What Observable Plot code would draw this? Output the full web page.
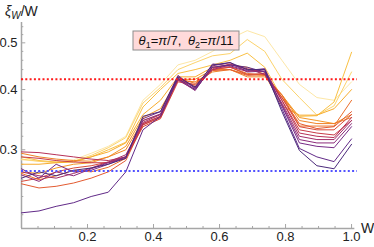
<!DOCTYPE html>
<html><head><meta charset="utf-8">
<script src="https://cdn.jsdelivr.net/npm/d3@7"></script>
<script src="https://cdn.jsdelivr.net/npm/@observablehq/plot@0.6"></script>
<style>body{margin:0;background:#fff}#chart{width:374px;height:247px}</style>
</head><body><div id="chart"></div>
<script>
// sample positions of W
const xs = [0,0.053,0.105,0.158,0.211,0.263,0.316,0.368,0.421,0.474,0.526,0.579,0.632,0.684,0.737,0.789,0.842,0.895,0.947,1];
// series (darkest purple first ... palest yellow last)
const s0  = [0.262,0.27,0.265,0.272,0.275,0.28,0.288,0.352,0.36,0.425,0.405,0.45,0.455,0.44,0.44,0.36,0.299,0.278,0.274,0.308];
const s1  = [0.222,0.224,0.229,0.233,0.24,0.245,0.27,0.33,0.352,0.422,0.40,0.445,0.45,0.445,0.435,0.365,0.302,0.29,0.2835,0.316];
const s2  = [0.274,0.262,0.28,0.27,0.272,0.28,0.29,0.348,0.36,0.428,0.402,0.452,0.448,0.438,0.442,0.37,0.31,0.305,0.303,0.335];
const s3  = [0.266,0.258,0.27,0.265,0.274,0.282,0.29,0.345,0.356,0.42,0.398,0.448,0.455,0.435,0.437,0.372,0.315,0.31,0.31,0.34];
const s4  = [0.27,0.265,0.262,0.268,0.275,0.283,0.293,0.342,0.355,0.425,0.403,0.44,0.45,0.442,0.43,0.375,0.32,0.315,0.315,0.345];
const s5  = [0.297,0.296,0.293,0.29,0.287,0.285,0.29,0.34,0.352,0.418,0.4,0.445,0.446,0.436,0.44,0.38,0.325,0.32,0.318,0.35];
const s6  = [0.29,0.288,0.285,0.283,0.282,0.282,0.288,0.338,0.35,0.42,0.405,0.442,0.452,0.44,0.435,0.38,0.33,0.325,0.322,0.345];
const s7  = [0.258,0.262,0.27,0.275,0.278,0.283,0.29,0.335,0.348,0.415,0.41,0.44,0.445,0.43,0.432,0.385,0.335,0.33,0.33,0.355];
const s8  = [0.255,0.25,0.252,0.256,0.262,0.27,0.285,0.338,0.35,0.42,0.408,0.438,0.44,0.428,0.43,0.385,0.34,0.332,0.335,0.36];
const s9  = [0.268,0.26,0.265,0.272,0.27,0.276,0.288,0.34,0.352,0.422,0.412,0.44,0.445,0.432,0.428,0.39,0.336,0.336,0.336,0.38];
const s10 = [0.295,0.29,0.287,0.285,0.284,0.29,0.3,0.345,0.355,0.418,0.415,0.435,0.44,0.425,0.425,0.39,0.345,0.34,0.34,0.35];
const s11 = [0.27,0.268,0.275,0.28,0.282,0.29,0.305,0.35,0.365,0.42,0.42,0.44,0.44,0.43,0.428,0.39,0.35,0.345,0.34,0.355];
const s12 = [0.28,0.28,0.282,0.283,0.29,0.297,0.31,0.355,0.38,0.425,0.425,0.445,0.45,0.445,0.43,0.37,0.354,0.354,0.365,0.40];
const s13 = [0.29,0.285,0.283,0.284,0.29,0.3,0.311,0.368,0.40,0.432,0.44,0.45,0.46,0.476,0.445,0.385,0.352,0.353,0.377,0.478];
const s14 = [0.287,0.284,0.282,0.284,0.292,0.303,0.318,0.375,0.404,0.44,0.455,0.47,0.475,0.508,0.48,0.42,0.385,0.354,0.37,0.435];
const s15 = [0.286,0.284,0.283,0.286,0.295,0.305,0.32,0.38,0.41,0.45,0.46,0.48,0.51,0.53,0.515,0.46,0.41,0.385,0.38,0.415];
const series = [s0,s1,s2,s3,s4,s5,s6,s7,s8,s9,s10,s11,s12,s13,s14,s15];
const colors = ["#4b2a7b","#612a88","#772b86","#8c2b7a","#a22d69","#b73157","#c93a47","#d84a3a",
                "#e35b31","#eb6e2a","#f08226","#f49726","#f7ac2e","#f9c043","#fcd36c","#fde7a6"];
const refRed = 0.42, refBlue = 0.271;
const xTicks = [0.2,0.4,0.6,0.8,1.0];
const xMinor = [0.05,0.1,0.15,0.25,0.3,0.35,0.45,0.5,0.55,0.65,0.7,0.75,0.85,0.9,0.95];
const yTicks = [0.3,0.4,0.5];
const yMinor = [0.22,0.24,0.26,0.28,0.32,0.34,0.36,0.38,0.42,0.44,0.46,0.48,0.52,0.54];

const table = [];
series.forEach((s, i) => s.forEach((v, k) => table.push({series: i, x: xs[k], v, color: colors[i]})));

const axisGray = "#a6a6a6";
const font = "'Liberation Sans', Arial, sans-serif";
const plot = Plot.plot({
  width: 374, height: 247,
  marginLeft: 21, marginRight: 17, marginTop: 22, marginBottom: 19,
  x: {domain: [0, 1.018]},
  y: {type: "log", domain: [0.206, 0.551]},
  style: {fontFamily: font, background: "#fff", color: "#222"},
  marks: [
    // axis lines
    Plot.ruleX([0], {y1: 0.206, y2: 0.551, stroke: axisGray, strokeWidth: 1.5}),
    Plot.ruleY([0.206], {x1: 0, x2: 1.01, stroke: axisGray, strokeWidth: 1.5}),
    // ticks
    Plot.ruleX(xTicks, {x: d => d, insetTop: 202, stroke: axisGray, strokeWidth: 1}),
    Plot.ruleX(xMinor, {x: d => d, insetTop: 204, stroke: axisGray, strokeWidth: 1}),
    Plot.ruleY(yTicks, {y: d => d, x1: 0, x2: 0.013, stroke: axisGray, strokeWidth: 1}),
    Plot.ruleY(yMinor, {y: d => d, x1: 0, x2: 0.007, stroke: axisGray, strokeWidth: 1}),
    // tick labels
    Plot.axisX({ticks: xTicks, tickSize: 0, tickPadding: 3, tickFormat: d3.format(".1f"), fontSize: 13, label: null}),
    Plot.axisY({ticks: yTicks, tickSize: 0, tickPadding: 4, tickFormat: d3.format(".1f"), fontSize: 13, label: null}),
    // data lines (pale first, dark on top)
    ...series.map((s, i) => i).reverse().map(i =>
      Plot.line(table.filter(d => d.series === i), {x: "x", y: "v", stroke: colors[i], strokeWidth: 1})),
    // reference lines
    Plot.ruleY([refRed], {stroke: "#ff1a1a", strokeWidth: 2, strokeDasharray: "2,2.3"}),
    Plot.ruleY([refBlue], {stroke: "#5252ff", strokeWidth: 2, strokeDasharray: "2,2.3"})
  ]
});

const svg = d3.select(plot);
// y axis title
const yt = svg.append("text").attr("x", 5).attr("y", 16).attr("text-anchor", "start")
  .attr("font-family", font).attr("font-size", 14).attr("fill", "#222");
yt.append("tspan").attr("font-style", "italic").text("ξ");
yt.append("tspan").attr("font-style", "italic").attr("font-size", 10).attr("dy", 3).text("W");
yt.append("tspan").attr("dy", -3).text("/W");
// x axis title
svg.append("text").attr("x", 361).attr("y", 233).attr("text-anchor", "start")
  .attr("font-family", font).attr("font-size", 14).attr("fill", "#222").text("W");
// legend box
svg.append("rect").attr("x", 133).attr("y", 31).attr("width", 106).attr("height", 19)
  .attr("fill", "#ffdada").attr("stroke", "#8c8c8c").attr("stroke-width", 1);
const lt = svg.append("text").attr("x", 186).attr("y", 45).attr("text-anchor", "middle")
  .attr("font-family", font).attr("font-size", 13).attr("fill", "#111");
lt.append("tspan").attr("font-style", "italic").text("θ");
lt.append("tspan").attr("font-size", 9).attr("dy", 3).text("1");
lt.append("tspan").attr("dy", -3).text("=");
lt.append("tspan").attr("font-style", "italic").text("π");
lt.append("tspan").text("/7,\u2002");
lt.append("tspan").attr("font-style", "italic").text("θ");
lt.append("tspan").attr("font-size", 9).attr("dy", 3).text("2");
lt.append("tspan").attr("dy", -3).text("=");
lt.append("tspan").attr("font-style", "italic").text("π");
lt.append("tspan").text("/11");

document.getElementById("chart").append(plot);
</script></body></html>
